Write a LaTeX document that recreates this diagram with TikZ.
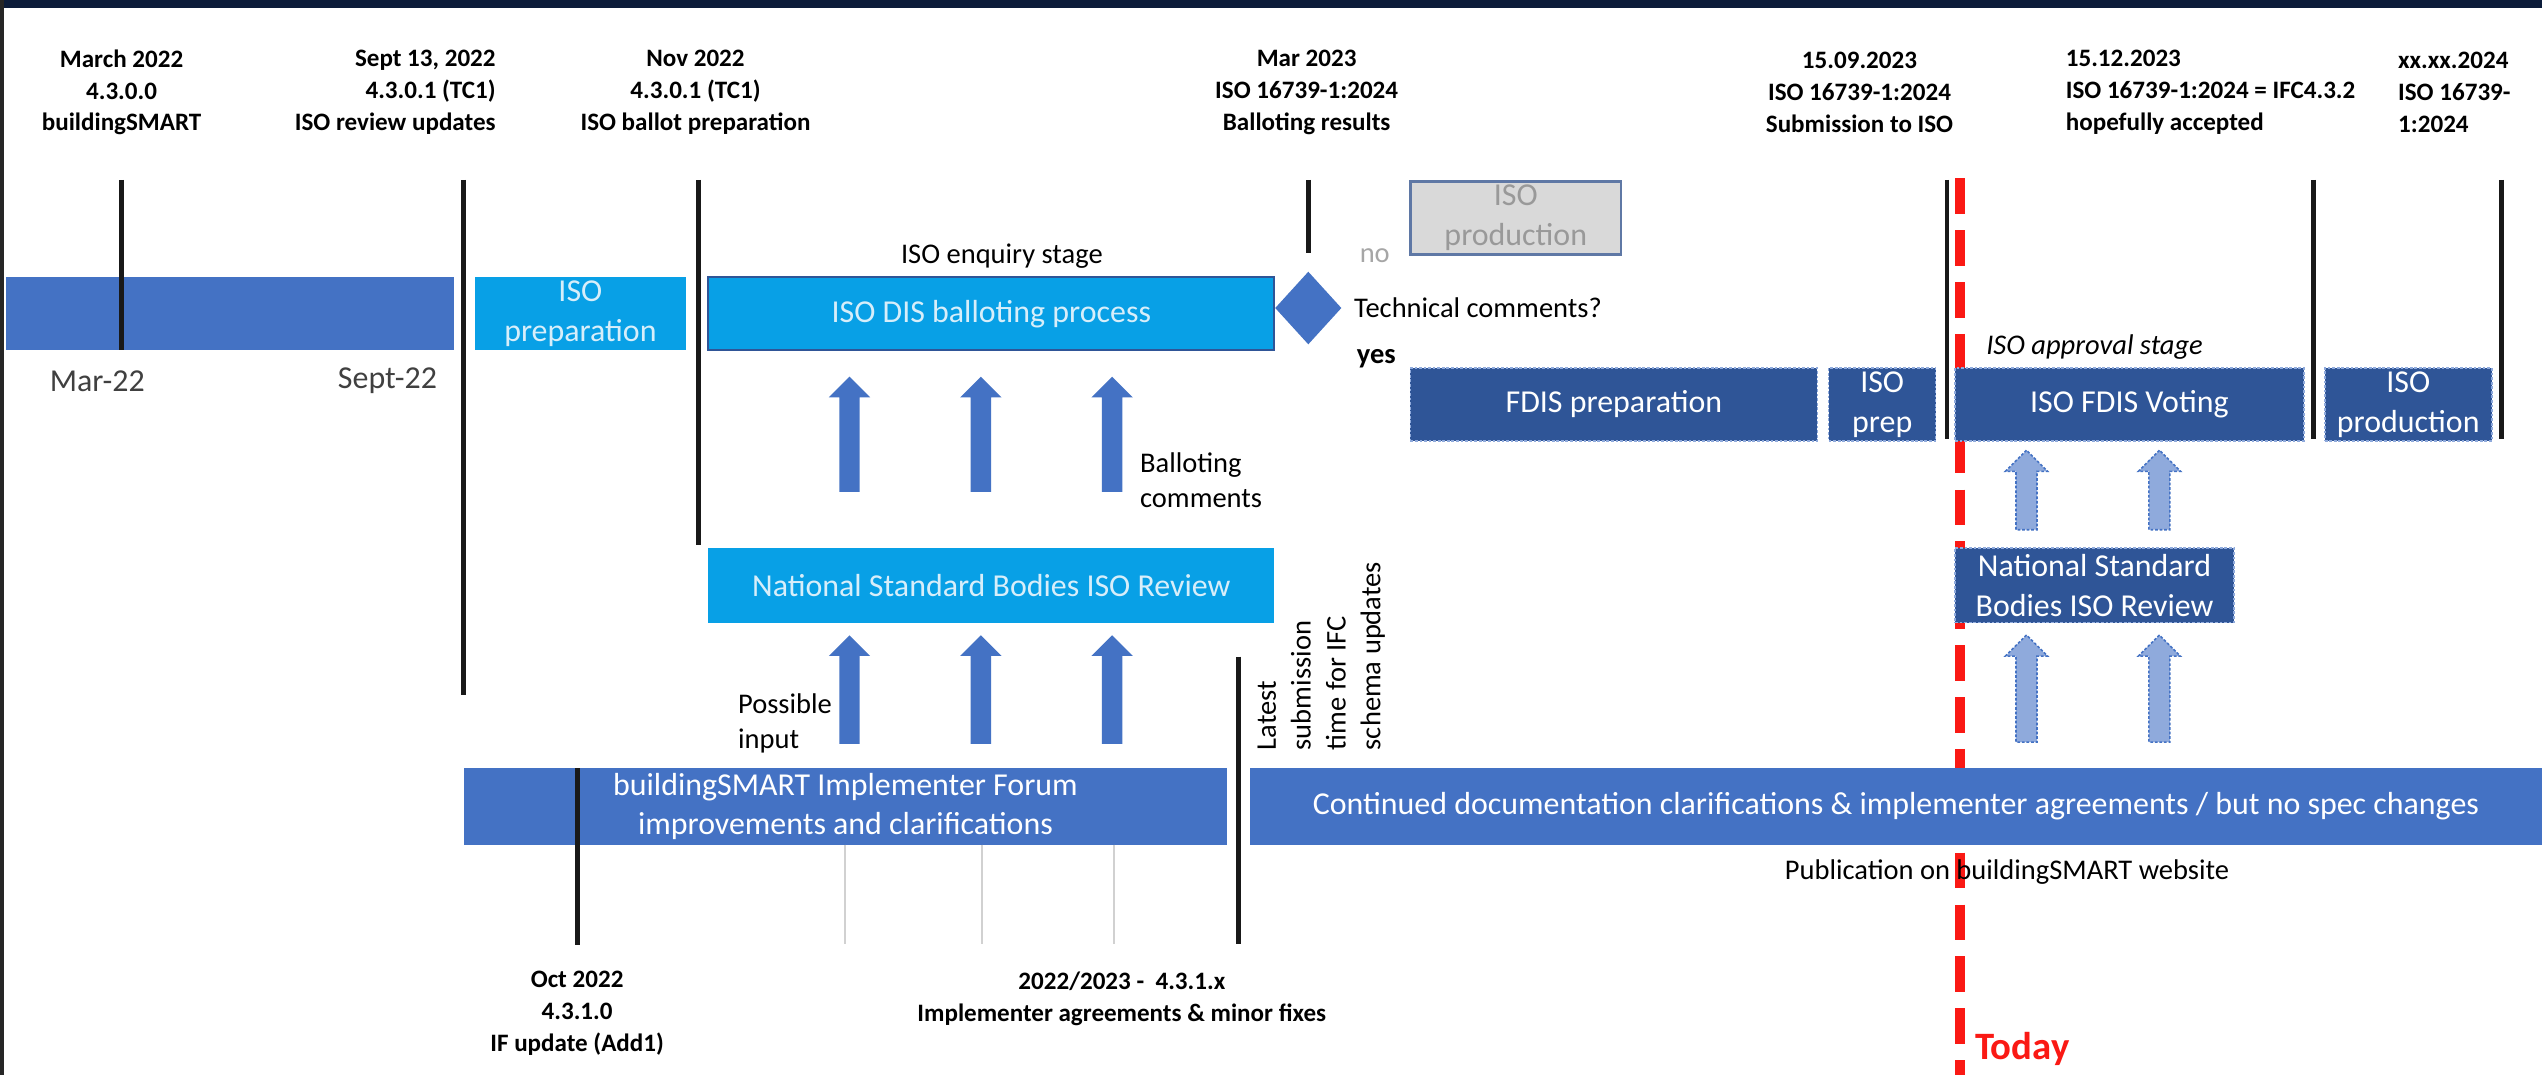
\documentclass[tikz,border=0pt]{standalone}
\usepackage{fontspec}
\setmainfont{Carlito}
\usetikzlibrary{shapes.geometric,shapes.arrows}

\definecolor{bsblue}{RGB}{68,114,196}
\definecolor{isoblue}{RGB}{8,160,230}
\definecolor{isotext}{RGB}{215,238,250}
\definecolor{fdisblue}{RGB}{47,85,151}
\definecolor{paleblue}{RGB}{143,170,220}
\definecolor{framenavy}{RGB}{12,28,58}
\definecolor{todayred}{RGB}{250,25,20}
\definecolor{greybox}{RGB}{217,217,217}

\newlength\px
\setlength\px{0.025cm}

\tikzset{
  datelbl/.style={font=\fontsize{11}{13.9}\selectfont\bfseries, align=center, inner sep=0},
  notelbl/.style={font=\fontsize{12.5}{15.3}\selectfont, inner sep=0, align=left},
  bsbar/.style={fill=bsblue, text=white, font=\fontsize{14}{17.5}\selectfont, align=center, inner sep=0},
  isobox/.style={fill=isoblue, text=isotext, font=\fontsize{14}{17.5}\selectfont, align=center, inner sep=0},
  fdisbox/.style={fill=fdisblue, draw=paleblue, dash pattern=on 1.2pt off 0.8pt, line width=0.7pt, text=white, font=\fontsize{14}{17.5}\selectfont, align=center, inner sep=0},
  uparrow/.style={single arrow, rotate=90, fill=bsblue, inner xsep=0, inner ysep=6\px, minimum width=25\px, single arrow head extend=6.5\px},
  dasharrow/.style={uparrow, fill=paleblue, draw=bsblue, dash pattern=on 1.2pt off 0.8pt, line width=0.7pt},
  datetick/.style={line width=3\px, black!90},
  faintline/.style={line width=1.2\px, black!18},
  todayline/.style={line width=6.5\px, todayred, dash pattern=on 22\px off 10\px},
}

\begin{document}
\begin{tikzpicture}[x=0.025cm, y=-0.025cm]
  \useasboundingbox (0,0) rectangle (1568,663);
  \fill[white] (0,0) rectangle (1568,663);
  \fill[framenavy] (0,0) rectangle (1568,5);
  \fill[black!85] (0,0) rectangle (2.5,663);

  \draw[todayline] (1209,110) -- (1209,663);

  \node[bsbar, minimum width=276\px, minimum height=45\px] (bsold) at (142,193.5) {};
  \node[isobox, minimum width=130\px, minimum height=45\px] (isoprep) at (358,193.5) {ISO\\preparation};
  \node[isobox, draw=fdisblue, line width=1.2\px, minimum width=349\px, minimum height=45\px] (isodis) at (611.5,193.5) {ISO DIS balloting process};
  \node[diamond, fill=bsblue, minimum width=41\px, minimum height=45\px, inner sep=0] (tc) at (807,190) {};
  \node[fill=greybox, draw=bsblue!55!gray, line width=1.5\px, text=black!40, font=\fontsize{14}{17.5}\selectfont, align=center, inner sep=0, minimum width=130\px, minimum height=45\px] (isoprodno) at (935,134.5) {ISO\\production};

  \node[fdisbox, minimum width=251\px, minimum height=45\px] (fdisprep) at (995.5,249.5) {FDIS preparation};
  \node[fdisbox, minimum width=66\px, minimum height=45\px] (isoprep2) at (1161,249.5) {ISO\\prep};
  \node[fdisbox, minimum width=215\px, minimum height=45\px] (fdisvote) at (1313.5,249.5) {ISO FDIS Voting};
  \node[fdisbox, minimum width=103\px, minimum height=45\px] (isoprod) at (1485.5,249.5) {ISO\\production};

  \node[isobox, minimum width=349\px, minimum height=46\px] (nsb) at (611.5,361) {National Standard Bodies ISO Review};
  \node[fdisbox, minimum width=172\px, minimum height=46\px] (nsb2) at (1292,361) {National Standard\\Bodies ISO Review};

  \node[bsbar, minimum width=471\px, minimum height=47\px] (ifbox) at (521.5,497.5) {buildingSMART Implementer Forum\\improvements and clarifications};
  \node[bsbar, minimum width=797\px, minimum height=47\px] (contbox) at (1169.5,497.5) {Continued documentation clarifications \& implementer agreements / but no spec changes};

  \draw[datetick] (75,111) -- (75,216);
  \draw[datetick] (286,111) -- (286,429);
  \draw[datetick] (431,111) -- (431,336);
  \draw[datetick] (807,111) -- (807,156);
  \draw[datetick] (1201,111) -- (1201,271);
  \draw[datetick] (1427,111) -- (1427,271);
  \draw[datetick] (1543,111) -- (1543,271);
  \draw[datetick] (356,474) -- (356,583);
  \draw[datetick] (764,405) -- (764,582);
  \draw[faintline] (521,521) -- (521,582);
  \draw[faintline] (606,521) -- (606,582);
  \draw[faintline] (687,521) -- (687,582);

  \node[uparrow, minimum height=71\px] (up1) at (524,271) {};
  \node[uparrow, minimum height=71\px] (up2) at (605,271) {};
  \node[uparrow, minimum height=71\px] (up3) at (686,271) {};
  \node[uparrow, minimum height=67\px] (lo1) at (524,428.5) {};
  \node[uparrow, minimum height=67\px] (lo2) at (605,428.5) {};
  \node[uparrow, minimum height=67\px] (lo3) at (686,428.5) {};
  \node[dasharrow, minimum height=49\px] (vup1) at (1250,305.5) {};
  \node[dasharrow, minimum height=49\px] (vup2) at (1332,305.5) {};
  \node[dasharrow, minimum height=66\px] (vlo1) at (1250,428) {};
  \node[dasharrow, minimum height=66\px] (vlo2) at (1332,428) {};

  \node[datelbl] (dmar22) at (75,57) {March 2022\\4.3.0.0\\buildingSMART};
  \node[datelbl, anchor=east, align=right] (dsep22) at (306,57) {Sept 13, 2022\\4.3.0.1 (TC1)\\ISO review updates};
  \node[datelbl] (dnov22) at (429,57) {Nov 2022\\4.3.0.1 (TC1)\\ISO ballot preparation};
  \node[datelbl] (dmar23) at (806,57) {Mar 2023\\ISO 16739-1:2024\\Balloting results};
  \node[datelbl] (dsep23) at (1147,57) {15.09.2023\\ISO 16739-1:2024\\Submission to ISO};
  \node[datelbl, anchor=west, align=left] (ddec23) at (1274,57) {15.12.2023\\ISO 16739-1:2024 = IFC4.3.2\\hopefully accepted};
  \node[datelbl, anchor=west, align=left] (d2024) at (1479,57) {xx.xx.2024\\ISO 16739-\\1:2024};
  \node[datelbl] (doct22) at (356,625) {Oct 2022\\4.3.1.0\\IF update (Add1)};
  \node[datelbl] (dfixes) at (692,616) {2022/2023 -\ \ 4.3.1.x\\Implementer agreements \& minor fixes};

  \node[notelbl, font=\fontsize{14}{17}\selectfont, text=black!75] (tmar) at (60,235) {Mar-22};
  \node[notelbl, font=\fontsize{14}{17}\selectfont, text=black!75] (tsep) at (239,235) {Sept-22};
  \node[notelbl] (enquiry) at (618,158) {ISO enquiry stage};
  \node[notelbl, text=black!35] (no) at (848,158) {no};
  \node[notelbl, anchor=west] (techq) at (835,190) {Technical comments?};
  \node[notelbl, font=\fontsize{12.5}{15.3}\selectfont\bfseries] (yes) at (849,221) {yes};
  \node[notelbl, font=\fontsize{12.5}{15.3}\selectfont\itshape] (approval) at (1292,214) {ISO approval stage};
  \node[notelbl, anchor=west] (ballotc) at (703,296) {Balloting\\comments};
  \node[notelbl, anchor=west] (possible) at (455,446) {Possible\\input};
  \node[notelbl, rotate=90, anchor=west] (latest) at (815,463) {Latest\\submission\\time for IFC\\schema updates};
  \node[notelbl] (publ) at (1238,538) {Publication on buildingSMART website};
  \node[anchor=west, inner sep=0, text=todayred, font=\fontsize{17}{20}\selectfont\bfseries] (today) at (1218,647) {Today};
\end{tikzpicture}
\end{document}
